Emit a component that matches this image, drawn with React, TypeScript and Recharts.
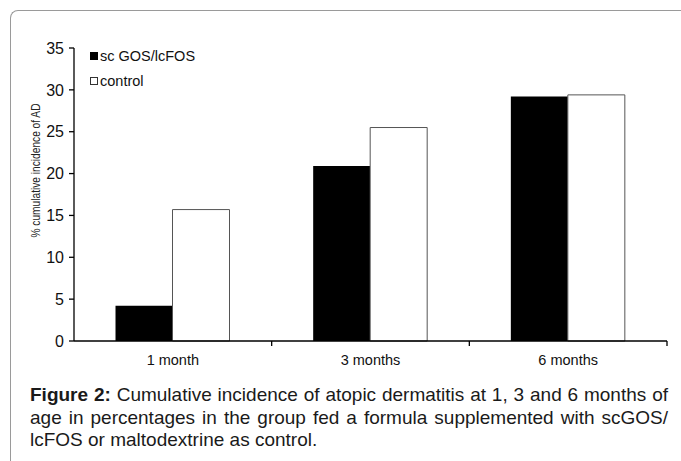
import React from 'react';
import { BarChart, Bar, XAxis, YAxis, Label } from 'recharts';

// Cumulative incidence of atopic dermatitis (%)
const categories = ['1 month', '3 months', '6 months'];
const seriesNames = ['sc GOS/lcFOS', 'control'];
const scGosLcFos = [4.2, 20.9, 29.2];
const controlGroup = [15.7, 25.5, 29.4];
const yTicks = [0, 5, 10, 15, 20, 25, 30, 35];
const yAxisTitle = '% cumulative incidence of AD';
const captionLead = 'Figure 2:';
const captionBody =
  ' Cumulative incidence of atopic dermatitis at 1, 3 and 6 months of age in percentages in the group fed a formula supplemented with scGOS/ lcFOS or maltodextrine as control.';

const seriesFills = ['#000', '#fff'];

const data = categories.map((c, i) => ({
  name: c,
  treated: scGosLcFos[i],
  control: controlGroup[i],
}));

// layout
const W = 681;
const CHART_H = 380;
const MARGIN = { top: 48, right: 14, bottom: 9, left: 14 };
const Y_AXIS_W = 60;
const X_AXIS_H = 30;
const PLOT_LEFT = MARGIN.left + Y_AXIS_W;
const PLOT_RIGHT = W - MARGIN.right;
const PLOT_BOTTOM = CHART_H - MARGIN.bottom - X_AXIS_H;
const BAND = (PLOT_RIGHT - PLOT_LEFT) / categories.length;
const FONT = '"Liberation Sans", Arial, sans-serif';

const CategoryTick = (props: any) => {
  const { x, payload } = props;
  const edge = x + BAND / 2;
  return (
    <g>
      <line x1={edge} x2={edge} y1={PLOT_BOTTOM} y2={PLOT_BOTTOM + 5} stroke="#000" strokeWidth={1.3} />
      <text
        x={x}
        y={PLOT_BOTTOM + 24}
        textAnchor="middle"
        fontFamily={FONT}
        fontSize={14.5}
        fill="#111"
      >
        {payload.value}
      </text>
    </g>
  );
};

const AxisTitle = () => (
  <text
    x={0}
    y={0}
    transform={`translate(39.5, 170.5) rotate(-90)`}
    textAnchor="middle"
    fontFamily={FONT}
    fontSize={13.5}
    fill="#222"
    textLength={134}
    lengthAdjust="spacingAndGlyphs"
  >
    {yAxisTitle}
  </text>
);

const LegendBox = () => (
  <div
    style={{
      position: 'absolute',
      left: 90,
      top: 43,
      fontFamily: FONT,
      fontSize: 14.5,
      color: '#111',
    }}
  >
    {seriesNames.map((n, i) => (
      <div key={n} style={{ display: 'flex', alignItems: 'center', height: 25.5 }}>
        <span
          style={{
            display: 'inline-block',
            width: 8,
            height: 8,
            boxSizing: 'border-box',
            background: seriesFills[i],
            border: i === 0 ? 'none' : '1px solid #333',
            marginRight: 2,
          }}
        />
        <span>{n}</span>
      </div>
    ))}
  </div>
);

export default function App() {
  return (
    <div
      style={{
        position: 'absolute',
        left: 0,
        top: 0,
        width: W,
        height: 461,
        background: '#fff',
        overflow: 'hidden',
      }}
    >
      <div
        style={{
          position: 'absolute',
          left: 10,
          top: 10,
          width: 700,
          height: 470,
          borderTop: '1px solid #9a9a9a',
          borderLeft: '1px solid #9a9a9a',
          borderTopLeftRadius: 8,
        }}
      />
      <div style={{ position: 'absolute', left: 0, top: 0 }}>
        <BarChart
          width={W}
          height={CHART_H}
          data={data}
          margin={MARGIN}
          barCategoryGap="21%"
          barGap={0}
        >
          <XAxis
            dataKey="name"
            height={X_AXIS_H}
            tickLine={false}
            axisLine={{ stroke: '#000', strokeWidth: 1.3 }}
            tick={<CategoryTick />}
            interval={0}
          />
          <YAxis
            width={Y_AXIS_W}
            domain={[0, 35]}
            ticks={yTicks}
            interval={0}
            tickSize={5}
            tickMargin={5}
            axisLine={{ stroke: '#000', strokeWidth: 1.3 }}
            tickLine={{ stroke: '#000', strokeWidth: 1.3 }}
            tick={{ fontFamily: FONT, fontSize: 16, fill: '#111' }}
          >
            <Label content={<AxisTitle />} />
          </YAxis>
          <Bar dataKey="treated" name={seriesNames[0]} fill={seriesFills[0]} isAnimationActive={false} />
          <Bar
            dataKey="control"
            name={seriesNames[1]}
            fill={seriesFills[1]}
            stroke="#555"
            strokeWidth={1}
            isAnimationActive={false}
          />
        </BarChart>
      </div>
      <LegendBox />
      <div
        style={{
          position: 'absolute',
          left: 30,
          top: 384,
          width: 638,
          fontFamily: FONT,
          fontSize: 19,
          lineHeight: '22.5px',
          textAlign: 'justify',
          color: '#1a1a1a',
        }}
      >
        <b>{captionLead}</b>
        {captionBody}
      </div>
    </div>
  );
}
